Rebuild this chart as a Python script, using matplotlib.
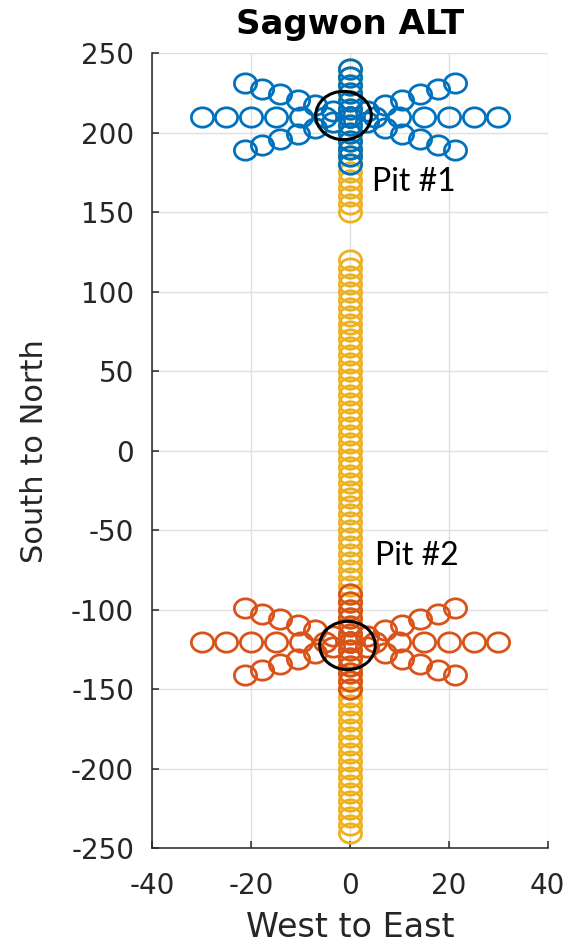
import numpy as np
import matplotlib
matplotlib.use("Agg")
import matplotlib.pyplot as plt
from matplotlib.path import Path
from matplotlib.markers import MarkerStyle

plt.rcParams["axes.unicode_minus"] = False

# transect along the centre line (x = 0), metres north
transect_y = [-240, -235, -230, -225, -220, -215, -210, -205, -200, -195,
              -190, -185, -180, -175, -170, -165, -160, -155, -150, -145,
              -140, -135, -130, -125, -120, -115, -110, -105, -100, -95,
              -90, -85, -80, -75, -70, -65, -60, -55, -50, -45,
              -40, -35, -30, -25, -20, -15, -10, -5, 0, 5,
              10, 15, 20, 25, 30, 35, 40, 45, 50, 55,
              60, 65, 70, 75, 80, 85, 90, 95, 100, 105,
              110, 115, 120,
              150, 155, 160, 165, 170, 175, 180, 185, 190, 195,
              200, 205, 210, 215, 220, 225, 230, 235, 240]
transect_x = [0] * len(transect_y)

# star pattern around each pit (W-E, S-N and two diagonal arms)
star_dx = [-30, -25, -20, -15, -10, -5, 0, 5, 10, 15, 20, 25, 30,
           0, 0, 0, 0, 0, 0, 0, 0, 0, 0, 0, 0, 0,
           -21.2, -17.7, -14.1, -10.6, -7.1, -3.5, 0, 3.5, 7.1, 10.6, 14.1, 17.7, 21.2,
           -21.2, -17.7, -14.1, -10.6, -7.1, -3.5, 0, 3.5, 7.1, 10.6, 14.1, 17.7, 21.2]
star_dy = [0, 0, 0, 0, 0, 0, 0, 0, 0, 0, 0, 0, 0,
           -30, -25, -20, -15, -10, -5, 0, 5, 10, 15, 20, 25, 30,
           -21.2, -17.7, -14.1, -10.6, -7.1, -3.5, 0, 3.5, 7.1, 10.6, 14.1, 17.7, 21.2,
           21.2, 17.7, 14.1, 10.6, 7.1, 3.5, 0, -3.5, -7.1, -10.6, -14.1, -17.7, -21.2]

pit1_center = (0, 210)
pit2_center = (0, -120)

# pit locations (black rings)
pit_x = [-1.5, -0.7]
pit_y = [211, -122]
pit_names = ["Pit #1", "Pit #2"]
label_x = [4.5, 5.0]
label_y = [169, -66]

# slightly wide ellipse marker, like the source image
circ = Path.unit_circle()
ell = MarkerStyle(Path(circ.vertices * np.array([1.0, 1 / 1.15]), circ.codes))

fig = plt.figure(figsize=(5.7, 9.48), dpi=100)
ax = fig.add_axes([0.267, 0.105, 0.694, 0.839])

ax.plot(transect_x, transect_y, ls="none", marker=ell, ms=16, mew=2.0,
        mfc="none", mec="#EDB120")
ax.plot(np.add(star_dx, pit1_center[0]), np.add(star_dy, pit1_center[1]),
        ls="none", marker=ell, ms=16, mew=2.0, mfc="none", mec="#0072BD")
ax.plot(np.add(star_dx, pit2_center[0]), np.add(star_dy, pit2_center[1]),
        ls="none", marker=ell, ms=16, mew=2.0, mfc="none", mec="#D95319")
ax.plot(pit_x, pit_y, ls="none", marker=ell, ms=40, mew=2.2,
        mfc="none", mec="black")

for name, lx, ly in zip(pit_names, label_x, label_y):
    ax.text(lx, ly, name, fontsize=23, family="Lato", color="black",
            ha="left", va="center")

ax.set_xlim(-40, 40)
ax.set_ylim(-250, 250)
ax.set_xticks([-40, -20, 0, 20, 40])
ax.set_yticks(list(range(-250, 251, 50)))
ax.grid(True, color="#E0E0E0", lw=1)
ax.set_axisbelow(True)

for side in ["top", "right"]:
    ax.spines[side].set_visible(False)
for side in ["left", "bottom"]:
    ax.spines[side].set_color("#262626")
    ax.spines[side].set_linewidth(1.1)

ax.tick_params(direction="in", length=5, width=1.1, color="#262626",
               labelsize=20, labelcolor="#262626")
ax.tick_params(axis="y", pad=13)
ax.tick_params(axis="x", pad=17)

ax.set_xlabel("West to East", fontsize=24, color="#262626", labelpad=8)
ax.set_ylabel("South to North", fontsize=22, color="#262626", labelpad=16)
ax.set_title("Sagwon ALT", fontsize=24.5, fontweight="bold", pad=14)

fig.savefig("out.png", dpi=100)
